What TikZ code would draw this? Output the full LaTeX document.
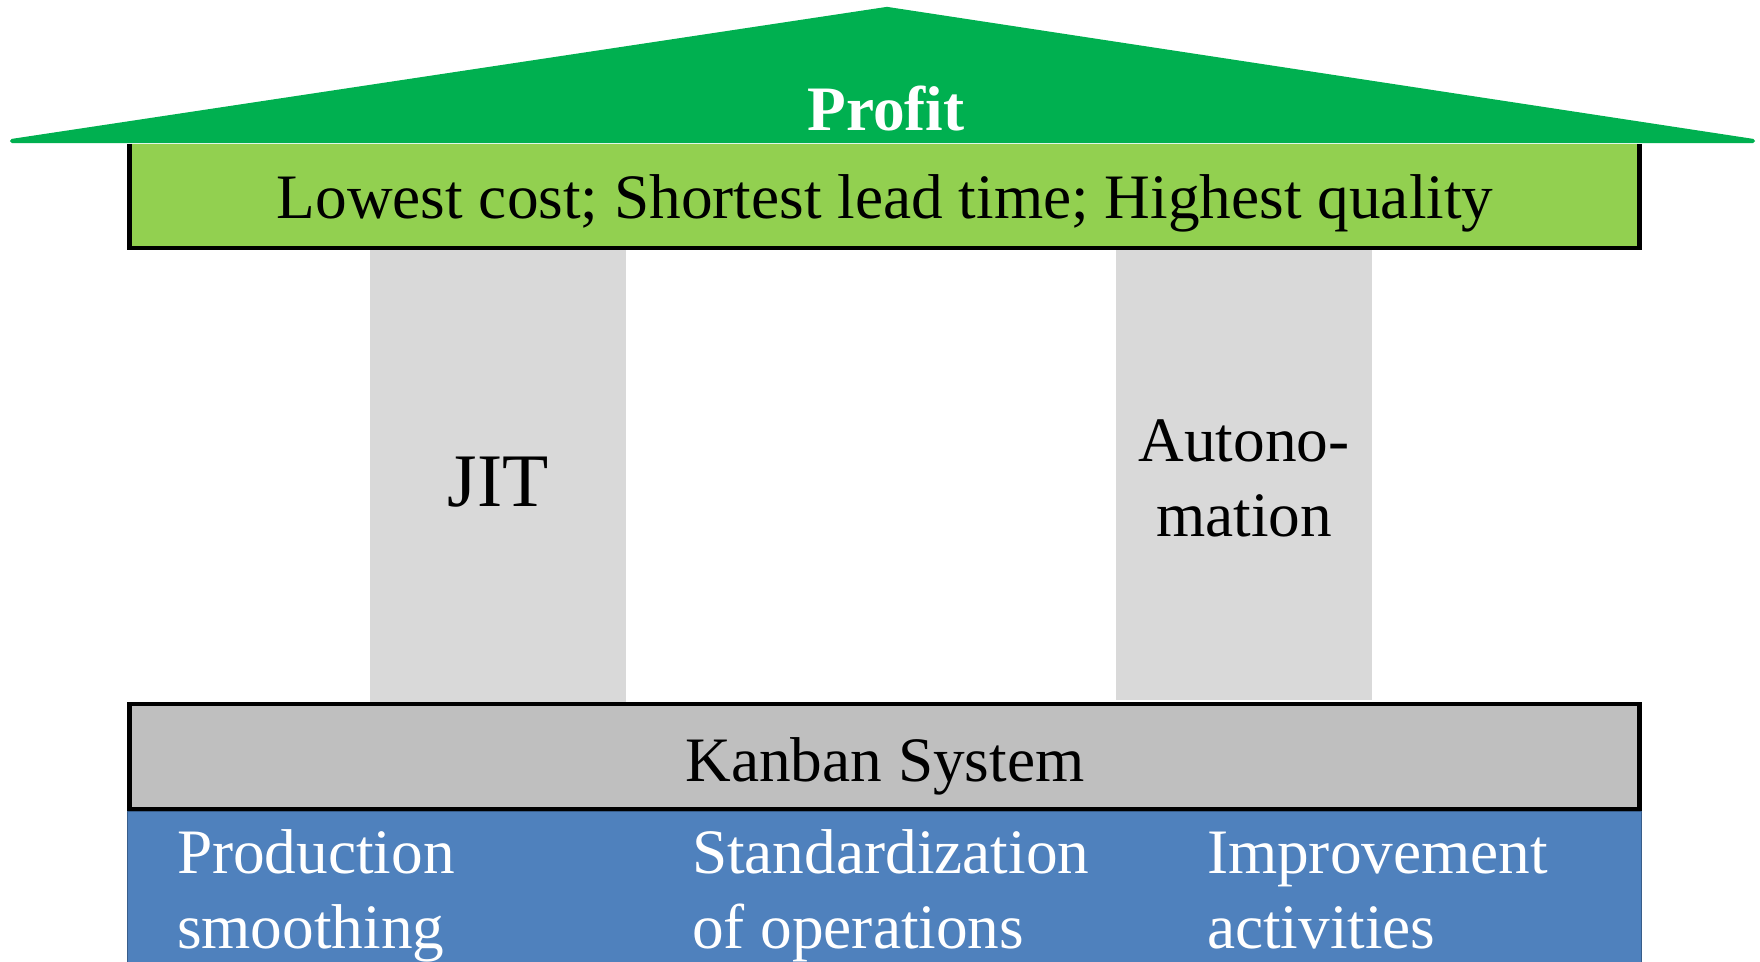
\documentclass[tikz,border=0pt]{standalone}
\usepackage{fontspec}
\setmainfont{Liberation Serif}
\usepackage{tikz}
\usetikzlibrary{positioning}

\definecolor{roofgreen}{HTML}{00B050}
\definecolor{beamgreen}{HTML}{92D050}
\definecolor{pillargray}{HTML}{D9D9D9}
\definecolor{kanbangray}{HTML}{BFBFBF}
\definecolor{baseblue}{HTML}{4F81BD}
\definecolor{baseedge}{HTML}{385D8A}

\begin{document}
\begin{tikzpicture}[x=0.01cm,y=-0.01cm,
	every node/.style={font=\fontsize{18}{21.6}\selectfont,inner sep=0pt,outer sep=0pt},
	slab/.style={minimum width=15.09cm,line width=1.3pt},
	pillar/.style={fill=pillargray,minimum width=2.56cm},
	txt/.style={anchor=base,align=center},
	basetxt/.style={anchor=base west,align=left,text=white},
	roof/.style={fill=roofgreen,draw=roofgreen,line width=1.2pt,line join=round}]
	\useasboundingbox (0,0) rectangle (1760,962);
	\node[slab,fill=baseblue,draw=baseedge,line width=0.5pt,minimum width=15.13cm,minimum height=1.8cm] (base) at (884.5,901) {};
	\node[slab,fill=kanbangray,draw=black,minimum height=1.05cm] (kanban) at (884.5,756.5) {};
	\node[pillar,minimum height=4.53cm] (jit) at (498,475.5) {};
	\node[pillar,minimum height=4.51cm] (jido) at (1244,474.5) {};
	\node[slab,fill=beamgreen,minimum height=1.04cm] (beam) at (884.5,196) {};
	\draw[line width=1.3pt] (beam.north west) -- (beam.south west) -- (beam.south east) -- (beam.north east);
	\draw[roof] (12,141) -- (887,9) -- (1753,141) -- cycle;
	\node[txt,text=white,font=\fontsize{18}{21.6}\selectfont\bfseries] (profit) at (886,131) {Profit};
	\node[txt] (goals) at (885,219) {Lowest cost; Shortest lead time; Highest quality};
	\node[txt,font=\fontsize{21.5}{26}\selectfont] (jitlabel) at (jit |- 0,507) {JIT};
	\node[txt] (jidolabel) at (jido |- 0,537) {Autono-\\mation};
	\node[txt] (kanbanlabel) at (885,782) {Kanban System};
	\node[basetxt] (heijunka) at (177,949) {Production\\smoothing};
	\node[basetxt] (standard) at (692,949) {Standardization\\of operations};
	\node[basetxt] (kaizen) at (1207,949) {Improvement\\activities};
\end{tikzpicture}
\end{document}
